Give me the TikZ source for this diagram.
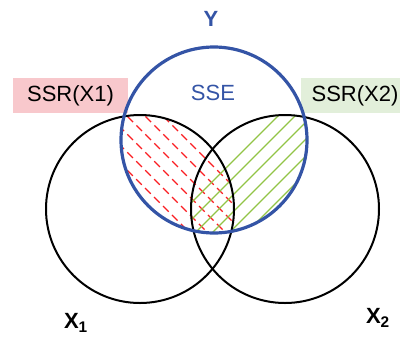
\documentclass[tikz,border=0pt]{standalone}
\usepackage{fontspec}
\setmainfont{Liberation Sans}
\definecolor{yblue}{RGB}{52,84,166}
\definecolor{hatchred}{RGB}{250,30,35}
\definecolor{hatchgreen}{RGB}{146,196,70}
\definecolor{boxpink}{RGB}{248,200,204}
\definecolor{boxgreen}{RGB}{226,239,218}
\begin{document}
\begin{tikzpicture}[x=0.75pt, y=-0.75pt, every node/.style={font=\fontsize{16.5}{18}\selectfont, inner sep=0pt},
    tag/.style={minimum height=26.25pt, text=black},
    redhatch/.style={hatchred, line width=0.9pt, dash pattern=on 6pt off 3.5pt},
    greenhatch/.style={hatchgreen, line width=0.9pt}]
            \useasboundingbox (0,0) rectangle (400,340);
            \coordinate (cy) at (214,140); \coordinate (c1) at (140,209); \coordinate (c2) at (285,209);
            \node[tag, fill=boxpink, minimum width=86.25pt] (ssr1) at (70.5,95.5) {SSR(X1)};
            \node[tag, fill=boxgreen, minimum width=74.25pt] (ssr2) at (350.5,95.5) {};
            \node (ssr2txt) at (355,95.5) {SSR(X2)};
            % hatching of the two overlaps with Y
            \begin{scope}
              \clip (cy) circle[radius=93]; \clip (c1) circle[radius=94];
              \foreach \s in {-295,-277,...,300} \draw[redhatch] (\s,0) -- ++(400,400);
            \end{scope}
            \begin{scope}
              \clip (cy) circle[radius=93]; \clip (c2) circle[radius=94];
              \foreach \s in {-6,11,...,600} \draw[greenhatch] (\s,400) -- ++(400,-400);
            \end{scope}
            \draw[line width=1.5pt] (c1) circle[radius=94]; \draw[line width=1.5pt] (c2) circle[radius=94];
            \draw[yblue, line width=2.4pt] (cy) circle[radius=93];
            \node[yblue, font=\fontsize{16.5}{18}\selectfont\bfseries] (ylab) at (211,19) {Y};
            \node[yblue] (sse) at (213,93) {SSE};
            \node[font=\fontsize{16.5}{18}\selectfont\bfseries] (x1lab) at (76,323) {X\textsubscript{1}};
            \node[font=\fontsize{16.5}{18}\selectfont\bfseries] (x2lab) at (378,318) {X\textsubscript{2}};
        \end{tikzpicture}
\end{document}
